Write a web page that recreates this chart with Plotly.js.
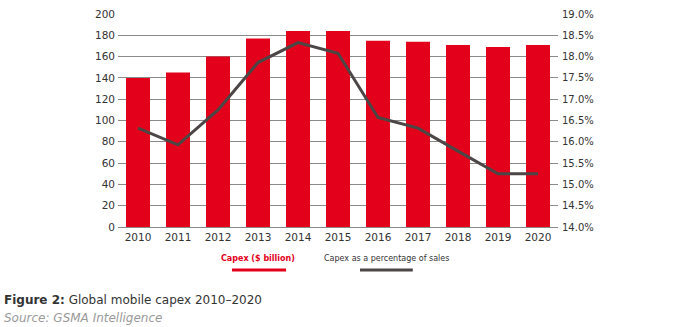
<!DOCTYPE html>
<html>
<head>
<meta charset="utf-8">
<script src="https://cdn.plot.ly/plotly-3.0.1.min.js"></script>
<style>
html,body{margin:0;padding:0;background:#fff;}
#chart{width:680px;height:327px;}
</style>
</head>
<body>
<div id="chart"></div>
<script>
var years = ["2010","2011","2012","2013","2014","2015","2016","2017","2018","2019","2020"];
var capexBillion = [140, 145, 160, 177, 184, 184, 175, 174, 171, 169, 171];
var capexPctSales = [16.32, 15.93, 16.75, 17.86, 18.33, 18.08, 16.57, 16.32, 15.78, 15.25, 15.25];
var seriesNames = ["Capex ($ billion)", "Capex as a percentage of sales"];
var leftTicks = [0,20,40,60,80,100,120,140,160,180,200];
var rightTicks = [14,14.5,15,15.5,16,16.5,17,17.5,18,18.5,19];
var titleBold = "Figure 2:";
var titleText = "Global mobile capex 2010–2020";
var sourceText = "Source: GSMA Intelligence";

var RED = "#e3001b";
var GREY = "#4d4646";
var FONT = "DejaVu Sans, sans-serif";

var traces = [
  {
    type: "bar", x: years, y: capexBillion, name: seriesNames[0],
    marker: {color: RED}, yaxis: "y", hoverinfo: "x+y"
  },
  {
    type: "scatter", mode: "lines", x: years, y: capexPctSales, name: seriesNames[1],
    line: {color: GREY, width: 3}, yaxis: "y2"
  }
];

var layout = {
  width: 680, height: 327,
  margin: {l: 118, r: 122, t: 14, b: 100},
  paper_bgcolor: "#fff", plot_bgcolor: "#fff",
  showlegend: false,
  bargap: 0.4,
  font: {family: FONT, color: "#333", size: 10},
  xaxis: {
    type: "category", showgrid: false, showline: true, linecolor: "#8a8a8a", linewidth: 1,
    ticks: "", tickfont: {size: 10.5, color: "#333"}, zeroline: false
  },
  yaxis: {
    range: [0, 200], tickvals: leftTicks, showgrid: true, gridcolor: "#8a8a8a", gridwidth: 1,
    zeroline: false, ticks: "", tickfont: {size: 10.5, color: "#333"}, ticklabelstandoff: 2
  },
  yaxis2: {
    overlaying: "y", side: "right", range: [14, 19], tickvals: rightTicks,
    ticktext: rightTicks.map(function(v){return v.toFixed(1) + "%";}),
    showgrid: false, zeroline: false, ticks: "", tickfont: {size: 10, color: "#333"}, ticklabelstandoff: 3
  },
  annotations: [
    {xref: "paper", yref: "paper", x: 0.318, y: -0.150, xanchor: "center", yanchor: "middle",
     text: "<b>" + seriesNames[0] + "</b>", showarrow: false, font: {family: FONT, size: 8, color: RED}},
    {xref: "paper", yref: "paper", x: 0.610, y: -0.150, xanchor: "center", yanchor: "middle",
     text: seriesNames[1], showarrow: false, font: {family: FONT, size: 8, color: "#333"}},
    {xref: "paper", yref: "paper", x: -0.2636, y: -0.343, xanchor: "left", yanchor: "middle",
     text: "<b>" + titleBold + "</b> " + titleText, showarrow: false, font: {family: FONT, size: 12, color: "#333"}},
    {xref: "paper", yref: "paper", x: -0.2636, y: -0.427, xanchor: "left", yanchor: "middle",
     text: "<i>" + sourceText + "</i>", showarrow: false, font: {family: FONT, size: 12, color: "#9a9a9a"}}
  ],
  shapes: [
    {type: "line", xref: "paper", yref: "paper", x0: 0.259, x1: 0.382, y0: -0.202, y1: -0.202,
     line: {color: RED, width: 3}},
    {type: "line", xref: "paper", yref: "paper", x0: 0.55, x1: 0.670, y0: -0.202, y1: -0.202,
     line: {color: GREY, width: 3}}
  ]
};

Plotly.newPlot("chart", traces, layout, {displayModeBar: false, staticPlot: true});
</script>
</body>
</html>
